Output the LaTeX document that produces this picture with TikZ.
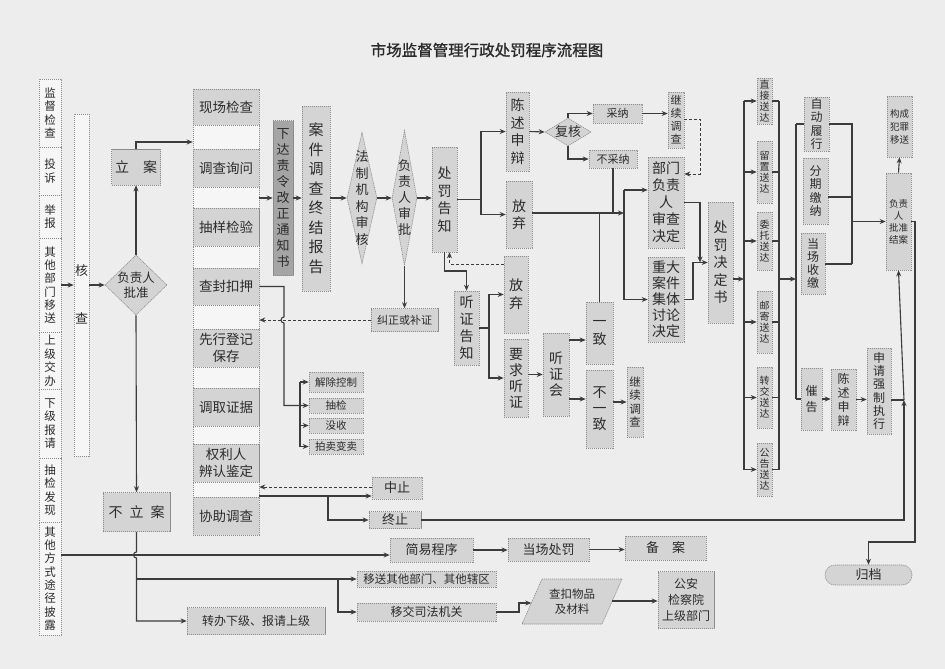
\documentclass[tikz,border=0pt]{standalone}
\usepackage{fontspec}
\setmainfont{Noto Sans CJK SC}
\newfontfamily\titlefont{Noto Sans CJK SC}[FakeBold=1.2]
\usetikzlibrary{arrows.meta,shapes.geometric}
\definecolor{bgc}{HTML}{EDEDED}
\definecolor{boxc}{HTML}{D4D4D4}
\definecolor{wc}{HTML}{F6F6F6}
\definecolor{darkc}{HTML}{A5A5A5}
\definecolor{bdc}{HTML}{8C8C8C}
\definecolor{linec}{HTML}{3C3C3C}
\definecolor{txt}{HTML}{2B2B2B}
\newcommand\myfs[2]{\fontsize{#1}{#2}\selectfont}
\tikzset{
  sz/.style 2 args={minimum width=#1pt, minimum height=#2pt},
  boxline/.style={draw=bdc, dash pattern=on 1.2pt off 0.8pt, line width=0.6pt, fill=boxc},
  box/.style={boxline, text=txt, inner sep=0pt, align=center},
  wbox/.style={box, fill=wc},
  dbox/.style={box, fill=darkc},
  dia/.style={box, diamond, inner sep=0pt},
  lab/.style={text=txt, inner sep=0pt, align=center},
  ln/.style={draw=linec, line width=1.1pt},
  ar/.style={ln, -{Stealth[length=6pt,width=5pt]}},
  dar/.style={ar, line width=0.9pt, dash pattern=on 3pt off 2pt}
}
\begin{document}
\begin{tikzpicture}[x=1pt,y=-1pt]
\useasboundingbox (0,0) rectangle (945,669);
\fill[bgc] (0,0) rectangle (945,669);
\node[font=\titlefont\myfs{15.5}{18}, text=txt] (title) at (487,50) {市场监督管理行政处罚程序流程图};

% left column
\node[wbox, sz={22}{68}, font=\myfs{11.5}{13.5}] (s1) at (50,113) {监\\督\\检\\查};
\node[wbox, sz={22}{48}, font=\myfs{11.5}{13.5}] (s2) at (50,171) {投\\诉};
\node[wbox, sz={22}{43}, font=\myfs{11.5}{13.5}] (s3) at (50,216.5) {举\\报};
\node[wbox, sz={22}{94}, font=\myfs{11.5}{13.3}] (s4) at (50,285) {其\\他\\部\\门\\移\\送};
\node[wbox, sz={22}{57}, font=\myfs{11.5}{13.5}] (s5) at (50,360.5) {上\\级\\交\\办};
\node[wbox, sz={22}{69}, font=\myfs{11.5}{13.5}] (s6) at (50,423.5) {下\\级\\报\\请};
\node[wbox, sz={22}{64}, font=\myfs{11.5}{13.5}] (s7) at (50,490) {抽\\检\\发\\现};
\node[wbox, sz={22}{113}, font=\myfs{11.5}{13.3}] (s8) at (50,578.5) {其\\他\\方\\式\\途\\径\\披\\露};

\node[wbox, sz={15}{342}] (hc) at (81.5,285) {};
\node[lab, font=\myfs{13}{16}] (hct) at (81.5,294) {核\\[32pt]查};
\node[box, sz={49}{36}, font=\myfs{14}{16}] (la) at (136,167) {立\quad 案};
\node[dia, sz={62}{60}] (pz) at (136,285) {};
\node[lab, font=\myfs{12.5}{14.5}] (pzt) at (pz) {负责人\\批准};
\node[box, sz={67}{39}, font=\myfs{14}{16}] (bla) at (136.5,512) {不\enspace 立\enspace 案};

% investigation column
\node[wbox, sz={66}{446}] (inv) at (226,312) {};
\node[box, sz={66}{36}, font=\myfs{13.5}{16.5}] (i1) at (226,107) {现场检查};
\node[box, sz={66}{38}, font=\myfs{13.5}{16.5}] (i2) at (226,168) {调查询问};
\node[box, sz={66}{38}, font=\myfs{13.5}{16.5}] (i3) at (226,227) {抽样检验};
\node[box, sz={66}{37}, font=\myfs{13.5}{16.5}] (i4) at (226,286.5) {查封扣押};
\node[box, sz={66}{38}, font=\myfs{13.5}{16.5}] (i5) at (226,348) {先行登记\\保存};
\node[box, sz={66}{38}, font=\myfs{13.5}{16.5}] (i6) at (226,407) {调取证据};
\node[box, sz={66}{38}, font=\myfs{13.5}{16.5}] (i7) at (226,463) {权利人\\辨认鉴定};
\node[box, sz={66}{38}, font=\myfs{13.5}{16.5}] (i8) at (226,516) {协助调查};

\node[dbox, sz={20}{155}, font=\myfs{13}{16}] (xd) at (283,198) {下\\达\\责\\令\\改\\正\\通\\知\\书};
\node[box, sz={28}{185}, font=\myfs{15}{19.5}] (ajbg) at (316,198.5) {案\\件\\调\\查\\终\\结\\报\\告};
\node[dia, sz={30}{131}] (fz) at (362,198) {};
\node[lab, font=\myfs{13}{16.5}] (fzt) at (fz) {法\\制\\机\\构\\审\\核};
\node[dia, sz={25}{135}] (fzr) at (404.5,198) {};
\node[lab, font=\myfs{13}{16}] (fzrt) at (fzr) {负\\责\\人\\审\\批};
\node[box, sz={25}{105}, font=\myfs{14}{17.5}] (cfgz) at (444.5,199.5) {处\\罚\\告\\知};
\node[box, sz={67}{23}, font=\myfs{11}{13}] (jz) at (404.5,320) {纠正或补证};

\node[box, sz={54}{20}, font=\myfs{10.5}{12}] (jc) at (336,382) {解除控制};
\node[box, sz={54}{15}, font=\myfs{10.5}{12}] (cj) at (336,405.5) {抽检};
\node[box, sz={54}{15}, font=\myfs{10.5}{12}] (ms) at (336,425.5) {没收};
\node[box, sz={54}{15}, font=\myfs{10.5}{12}] (pm) at (336,446.5) {拍卖变卖};

\node[box, sz={50}{22}, font=\myfs{13}{15}] (zhz) at (397,488) {中止};
\node[box, sz={52}{17}, font=\myfs{13}{15}] (zzh) at (395,520) {终止};

% statement branch
\node[box, sz={23}{79}, font=\myfs{14}{17.5}] (cssb) at (517.5,131.5) {陈\\述\\申\\辩};
\node[box, sz={26}{67}, font=\myfs{14}{17}] (fq1) at (519,214.5) {放\\弃};
\node[dia, sz={46}{28}] (fh) at (568,132) {};
\node[lab, font=\myfs{13}{15}] (fht) at (fh) {复核};
\node[box, sz={49}{19}, font=\myfs{11}{13}] (cn) at (617.5,113.5) {采纳};
\node[box, sz={48}{18}, font=\myfs{11}{13}] (bcn) at (613,159) {不采纳};
\node[box, sz={16}{56}, font=\myfs{11}{13}] (jx1) at (676,120) {继\\续\\调\\查};
\node[box, sz={36}{91}, font=\myfs{14}{17}] (bm) at (666,202.5) {部门\\负责\\人\\审查\\决定};
\node[box, sz={36}{85}, font=\myfs{14}{16}] (zd) at (666,299.5) {重大\\案件\\集体\\讨论\\决定};
\node[box, sz={25}{121}, font=\myfs{14}{17.5}] (cfjd) at (720.5,262.5) {处\\罚\\决\\定\\书};

\node[box, sz={15}{46}, font=\myfs{10}{11}] (sd1) at (764.5,101) {直\\接\\送\\达};
\node[box, sz={15}{62}, font=\myfs{10}{11}] (sd2) at (764.5,172) {留\\置\\送\\达};
\node[box, sz={15}{58}, font=\myfs{10}{11}] (sd3) at (764.5,241) {委\\托\\送\\达};
\node[box, sz={15}{62}, font=\myfs{10}{11}] (sd4) at (764.5,322) {邮\\寄\\送\\达};
\node[box, sz={15}{61}, font=\myfs{10}{11}] (sd5) at (764.5,397.5) {转\\交\\送\\达};
\node[box, sz={15}{53}, font=\myfs{10}{11}] (sd6) at (764.5,469.5) {公\\告\\送\\达};

\node[box, sz={25}{54}, font=\myfs{12}{13.5}] (zdlx) at (816.5,124) {自\\动\\履\\行};
\node[box, sz={25}{66}, font=\myfs{12}{13.5}] (fq) at (815.5,191) {分\\期\\缴\\纳};
\node[box, sz={24}{61}, font=\myfs{12}{13.2}] (dcsj) at (813,263.5) {当\\场\\收\\缴};
\node[box, sz={25}{97}, font=\myfs{9.5}{12}] (ja) at (898.5,221.5) {负责\\人\\批准\\结案};
\node[box, sz={25}{61}, font=\myfs{9.5}{13}] (gc) at (899.5,126.5) {构成\\犯罪\\移送};
\node[box, sz={21}{62}, font=\myfs{12}{16}] (cg) at (811.5,399) {催\\告};
\node[box, sz={25}{61}, font=\myfs{12}{14}] (cssb2) at (843.5,399.5) {陈\\述\\申\\辩};
\node[box, sz={24}{86}, font=\myfs{12}{13.2}] (sqzx) at (879,391) {申\\请\\强\\制\\执\\行};
\node[box, sz={87}{20}, rounded corners=10pt, font=\myfs{13}{15}] (gd) at (868.5,575) {归档};

% hearing branch
\node[box, sz={25}{74}, font=\myfs{14}{17}] (tzgz) at (466.5,328) {听\\证\\告\\知};
\node[box, sz={24}{77}, font=\myfs{14}{18}] (fq2) at (516,294.5) {放\\弃};
\node[box, sz={24}{78}, font=\myfs{14}{16}] (yqtz) at (516,378) {要\\求\\听\\证};
\node[box, sz={26}{83}, font=\myfs{14}{16}] (tzh) at (556,374.5) {听\\证\\会};
\node[box, sz={27}{62}, font=\myfs{14}{18}] (yz) at (599.5,333) {一\\致};
\node[box, sz={27}{78}, font=\myfs{14}{16}] (byz) at (599.5,409) {不\\一\\致};
\node[box, sz={16}{70}, font=\myfs{11.5}{13.5}] (jx2) at (635,402) {继\\续\\调\\查};

% bottom
\node[box, sz={83}{24}, font=\myfs{13}{15}] (jy) at (431.5,550) {简易程序};
\node[box, sz={81}{23}, font=\myfs{13}{15}] (dccf) at (548.5,549.5) {当场处罚};
\node[box, sz={81}{24}, font=\myfs{13}{15}] (ba) at (665.5,548) {备\quad 案};
\node[box, sz={139}{16}, font=\myfs{11.5}{13}] (ys) at (426.5,579) {移送其他部门、其他辖区};
\node[box, sz={139}{18}, font=\myfs{12}{14}] (yj) at (426.5,612) {移交司法机关};
\path[boxline] (542,579) -- (622,579) -- (602,624) -- (522,624) -- cycle;
\node[lab, font=\myfs{11.5}{15}] (ck) at (572,601.5) {查扣物品\\及材料};
\coordinate (pin) at (531.3,603);
\coordinate (pout) at (612.2,601);
\node[box, sz={56}{57}, font=\myfs{12}{16}] (ga) at (686,600) {公安\\检察院\\上级部门};
\node[box, sz={138}{27}, font=\myfs{12}{14}] (zb) at (256,621) {转办下级、报请上级};

% connectors left
\draw[ar] (s4.east) -- (hc.west |- s4.east);
\draw[ar] (hc.east |- pz.west) -- (pz.west);
\draw[ar] (pz.north) -- (la.south);
\draw[ar] (la.north) |- (inv.west |- 0,142);
\draw[ar] (pz.south) -- (bla.north);
\draw[ar] (inv.east |- xd.west) -- (xd.west);
\draw[ar] (xd.east) -- (ajbg.west |- xd.east);
\draw[ar] (ajbg.east |- fz.west) -- (fz.west);
\draw[ar] (fz.east) -- (fzr.west);
\draw[ar] (fzr.east) -- (cfgz.west |- fzr.east);
\draw[ar] (fzr.south) -- (jz.north);
\draw[dar] (jz.west) -- (inv.east |- jz.west);
\draw[ar] (i4.east) -- (284,286.5) -- (284,317) arc[start angle=270,end angle=90,radius=3] -- (284,405.5) -- (cj.west);
\draw[ln] (300,382) -- (300,446.5);
\foreach \n in {jc,ms,pm} \draw[ar] (300,0 |- \n.west) -- (\n.west);
\draw[ar] (inv.east |- 0,496) -- (zhz.west |- 0,496);
\draw[ar] (328,496) |- (zzh.west);
\draw[dar] (zhz.west |- 0,487) -- (inv.east |- 0,487);
\draw[ar] (zzh.east) -- (904,520) -- (904,400);
\draw[ar] (904,400) -- (ja.south);
\draw[ln] (sqzx.east |- 0,400) -- (904,400);
\draw[ar] (ja.north) -- (gc.south);
\draw[ar] (ja.east) -- (915,221.5) -- (915,542) -| (gd.north);

% statement branch connectors
\draw[ln] (cfgz.east) -- (481,199.5);
\draw[ar] (481,199.5) |- (cssb.west);
\draw[ar] (481,199.5) |- (fq1.west);
\draw[ar] (cssb.east) -- (fh.west);
\draw[ar] (fh.north) |- (cn.west);
\draw[ar] (fh.south) |- (bcn.west);
\draw[ar] (cn.east) -- (jx1.west |- cn.east);
\draw[dar] (jx1.east |- 0,119) -- (700,119) |- (bm.east |- 0,174);
\draw[ar] (fq1.east |- 0,213) -- (624,213);
\draw[ln] (bcn.south) -- (bcn.south |- 0,213);
\draw[ln] (yz.north) -- (yz.north |- 0,213);
\draw[ln] (624,190) -- (624,299.5);
\draw[ar] (624,190) -- (bm.west |- 0,190);
\draw[ar] (624,299.5) -- (zd.west);
\draw[ar] (bm.east) -| (700,262.5);
\draw[ar] (zd.east) -| (693,262.5) -- (cfjd.west);
\draw[ar] (cfjd.east |- 0,279) -- (744,279);
\draw[ln] (744,101) -- (744,469.5);
\draw[ln] (779,101) -- (779,469.5);
\foreach \n in {sd1,sd2,sd3,sd4,sd5,sd6} {
  \draw[ar] (744,0 |- \n.west) -- (\n.west);
  \draw[ln] (\n.east) -- (779,0 |- \n.east);
}
\draw[ar] (779,279) -- (796,279);
\draw[ln] (796,124) -- (796,399);
\draw[ln] (796,124) -- (zdlx.west);
\draw[ln] (796,399) -- (cg.west);
\draw[ln] (zdlx.east) -- (852,124) -- (852,264);
\draw[ln] (fq.east |- 0,197) -- (852,197);
\draw[ln] (dcsj.east |- 0,264) -- (852,264);
\draw[ar] (852,221.5) -- (ja.west);
\draw[ar] (cg.east) -- (cssb2.west |- cg.east);
\draw[ar] (cssb2.east) -- (sqzx.west |- cssb2.east);

% hearing connectors
\draw[ar] (cfgz.south) |- (tzgz.north |- 0,271) -- (tzgz.north);
\draw[dar] (fq2.west |- 0,264) -| ([xshift=5pt]cfgz.south);
\draw[ln] (tzgz.east) -- (489,328);
\draw[ar] (489,328) |- (fq2.west);
\draw[ar] (489,328) |- (yqtz.west);
\draw[ar] (yqtz.east |- tzh.west) -- (tzh.west);
\draw[ar] (tzh.east |- 0,340) -- (yz.west |- 0,340);
\draw[ar] (tzh.east |- 0,399) -- (byz.west |- 0,399);
\draw[ar] (byz.east |- jx2.west) -- (jx2.west);

% bottom connectors
\draw[ar] (s8.east |- 0,555) -- (jy.west |- 0,555);
\draw[ar] (jy.east) -- (dccf.west |- jy.east);
\draw[ar] (dccf.east) -- (ba.west |- dccf.east);
\draw[ar] (bla.south) -- (136.5,552) arc[start angle=270,end angle=90,radius=3] -- (136.5,621) -- (zb.west);
\draw[ar] (136.5,579) -- (ys.west);
\draw[ar] (338,579) |- (yj.west);
\draw[ar] (yj.east) -- (519,612) |- (pin);
\draw[ar] (pout) -- (ga.west |- pout);
\end{tikzpicture}
\end{document}
